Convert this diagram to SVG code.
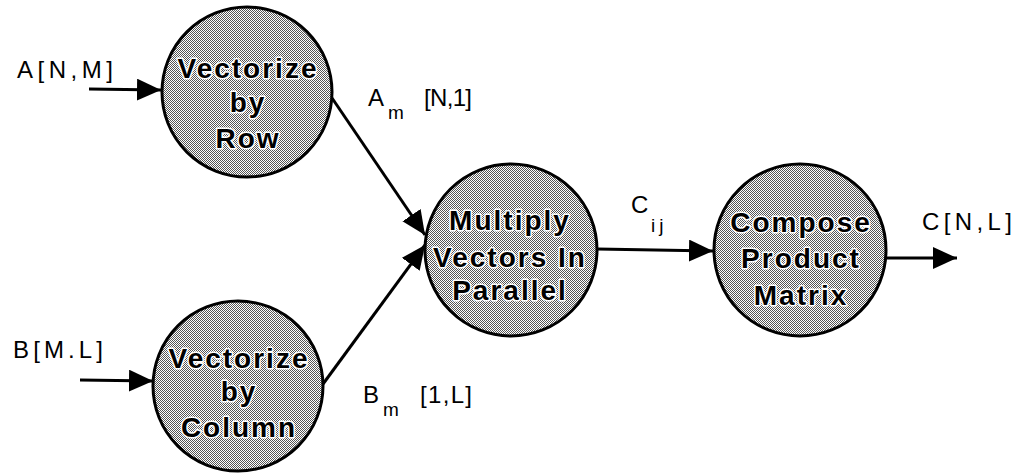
<svg xmlns="http://www.w3.org/2000/svg" width="1016" height="473" viewBox="0 0 1016 473">
<style>
  .node { fill: url(#stip); stroke: #000; stroke-width: 3; }
  .nt { font-family: "Liberation Sans", Arial, sans-serif; font-weight: bold; font-size: 28px; letter-spacing: 2px; fill: #000; stroke: #fff; stroke-width: 3; stroke-linejoin: round; paint-order: stroke; text-anchor: middle; }
  .lbl { font-family: "Liberation Sans", Arial, sans-serif; font-size: 24px; fill: #000; }
  .sub { font-family: "Liberation Sans", Arial, sans-serif; font-size: 19px; fill: #000; }
  .edge { stroke: #000; stroke-width: 3; fill: none; marker-end: url(#ah); }
</style>
<defs>
  <pattern id="stip" width="2" height="2" patternUnits="userSpaceOnUse">
    <rect width="2" height="2" fill="#fff"/>
    <rect x="0" y="0" width="1" height="1" fill="#555"/>
    <rect x="1" y="1" width="1" height="1" fill="#555"/>
  </pattern>
  <marker id="ah" markerUnits="userSpaceOnUse" markerWidth="26" markerHeight="24" refX="24" refY="11" orient="auto">
    <path d="M0,0 L24,11 L0,22 Z" fill="#000"/>
  </marker>
</defs>
<rect width="1016" height="473" fill="#fff"/>

<g id="connectors">
  <line class="edge" x1="89" y1="89" x2="161" y2="90"/>
  <line class="edge" x1="80" y1="380" x2="153" y2="381"/>
  <line class="edge" x1="332" y1="98" x2="425" y2="235"/>
  <line class="edge" x1="323" y1="384" x2="425" y2="245"/>
  <line class="edge" x1="597" y1="249" x2="713" y2="251"/>
  <line class="edge" x1="887" y1="258" x2="957" y2="258"/>
</g>

<g id="labels">
  <text class="lbl" x="17" y="78" textLength="96" lengthAdjust="spacing">A[N,M]</text>
  <text class="lbl" x="13" y="358" textLength="90" lengthAdjust="spacing">B[M.L]</text>
  <text class="lbl" x="922" y="230" textLength="90" lengthAdjust="spacing">C[N,L]</text>
  <text class="lbl" x="368" y="106">A</text>
  <text class="sub" x="388" y="119">m</text>
  <text class="lbl" x="424" y="106" textLength="48" lengthAdjust="spacing">[N,1]</text>
  <text class="lbl" x="363" y="403">B</text>
  <text class="sub" x="383" y="416">m</text>
  <text class="lbl" x="420" y="403" textLength="52" lengthAdjust="spacing">[1,L]</text>
  <text class="lbl" x="631" y="213">C</text>
  <text class="sub" x="651" y="232" letter-spacing="4">ij</text>
</g>

<g id="node-vectorize-row">
  <circle class="node" cx="247" cy="92" r="85"/>
  <text class="nt" x="248" y="78">Vectorize</text>
  <text class="nt" x="248" y="112">by</text>
  <text class="nt" x="248" y="148">Row</text>
</g>

<g id="node-vectorize-column">
  <circle class="node" cx="238" cy="386" r="85"/>
  <text class="nt" x="239" y="368">Vectorize</text>
  <text class="nt" x="239" y="401">by</text>
  <text class="nt" x="239" y="437">Column</text>
</g>

<g id="node-multiply">
  <circle class="node" cx="511" cy="250" r="86"/>
  <text class="nt" x="510" y="230">Multiply</text>
  <text class="nt" x="510" y="267">Vectors In</text>
  <text class="nt" x="510" y="300">Parallel</text>
</g>

<g id="node-compose">
  <circle class="node" cx="800" cy="250" r="86"/>
  <text class="nt" x="801" y="232">Compose</text>
  <text class="nt" x="801" y="268">Product</text>
  <text class="nt" x="801" y="305">Matrix</text>
</g>
</svg>
